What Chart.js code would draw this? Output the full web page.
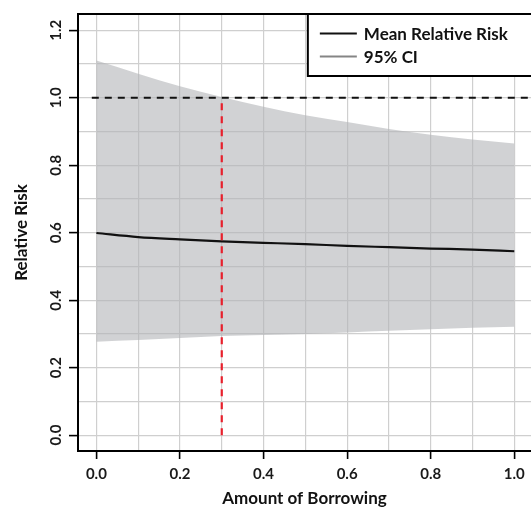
<!DOCTYPE html>
<html>
<head>
<meta charset="utf-8">
<script src="https://cdn.jsdelivr.net/npm/chart.js@4.4.0/dist/chart.umd.min.js"></script>
<style>
    html, body { margin: 0; padding: 0; overflow: hidden; background: #fff; }
    #wrap { width: 532px; height: 515px; }
</style>
</head>
<body>
<div id="wrap"><canvas id="riskChart"></canvas></div>
<script>
// values
var borrowing = [0, 0.1, 0.2, 0.3, 0.4, 0.5, 0.6, 0.7, 0.8, 0.9, 1.0];
var meanRisk = [0.599, 0.587, 0.580, 0.574, 0.570, 0.566, 0.561, 0.557, 0.553, 0.550, 0.545];
var upperCI = [1.110, 1.071, 1.034, 1.002, 0.973, 0.948, 0.928, 0.907, 0.890, 0.876, 0.864];
var lowerCI = [0.277, 0.282, 0.288, 0.294, 0.297, 0.300, 0.304, 0.309, 0.314, 0.318, 0.321];

var refLineX = [-0.011, 1.04];
var refLineY = [1, 1];
var cutoffX = [0.3, 0.3];
var cutoffY = [0, 1];

var xGrid = [0, 0.1, 0.2, 0.3, 0.4, 0.5, 0.6, 0.7, 0.8, 0.9, 1.0];
var xTicks = [0, 0.2, 0.4, 0.6, 0.8, 1.0];
var yGrid = [0, 0.1, 0.2, 0.3, 0.4, 0.5, 0.6, 0.7, 0.8, 0.9, 1.0, 1.1, 1.2];
var yTicks = [0, 0.2, 0.4, 0.6, 0.8, 1.0, 1.2];

function toPoints(xs, ys) {
    return xs.map(function (x, i) { return { x: x, y: ys[i] }; });
}
function isMajor(list, v) {
    return list.some(function (t) { return Math.abs(t - v) < 1e-6; });
}

var FONT = 'Lato, "Open Sans", sans-serif';

// box line on top of plot + framed legend
var framePlugin = {
    id: 'frame',
    afterDatasetsDraw: function (chart, args, opts) {
        var ctx = chart.ctx, a = chart.chartArea;
        ctx.save();
        ctx.strokeStyle = '#000';
        ctx.lineWidth = 2;
        ctx.beginPath();
        ctx.moveTo(a.left - 1, a.top);
        ctx.lineTo(a.right + 2, a.top);
        ctx.stroke();

        // legend
        var bx = chart.scales.x.getPixelForValue(opts.boxFrom);
        var by = a.top;
        var bh = opts.boxHeight;
        ctx.fillStyle = '#fff';
        ctx.fillRect(bx, by, a.right - bx + 2, bh);
        ctx.strokeRect(bx, by, a.right - bx + 10, bh);
        ctx.font = 'bold 17px ' + FONT;
        ctx.textBaseline = 'middle';
        opts.items.forEach(function (it, i) {
            var y = by + opts.firstRow + i * opts.rowGap;
            ctx.strokeStyle = it.color;
            ctx.lineWidth = it.width;
            ctx.beginPath();
            ctx.moveTo(bx + 12, y);
            ctx.lineTo(bx + 49, y);
            ctx.stroke();
            ctx.fillStyle = '#111';
            ctx.fillText(it.text, bx + 56, y + 1);
        });
        ctx.restore();
    }
};

var ctx = document.getElementById('riskChart').getContext('2d');
var myChart = new Chart(ctx, {
    type: 'line',
    data: {
        datasets: [{
            label: 'cutoff',
            data: toPoints(cutoffX, cutoffY),
            borderColor: '#e8202c',
            borderWidth: 2.2,
            borderDash: [7, 6],
            pointRadius: 0,
            fill: false
        }, {
            label: 'reference',
            data: toPoints(refLineX, refLineY),
            borderColor: '#111',
            borderWidth: 2,
            borderDash: [7, 6],
            pointRadius: 0,
            fill: false
        }, {
            label: 'Mean Relative Risk',
            data: toPoints(borrowing, meanRisk),
            borderColor: '#111',
            borderWidth: 2.2,
            pointRadius: 0,
            cubicInterpolationMode: 'monotone',
            fill: false
        }, {
            label: '95% CI',
            data: toPoints(borrowing, upperCI),
            borderColor: 'rgba(0,0,0,0)',
            backgroundColor: 'rgba(178,180,183,0.6)',
            pointRadius: 0,
            cubicInterpolationMode: 'monotone',
            fill: '+1'
        }, {
            label: '95% CI lower',
            data: toPoints(borrowing, lowerCI),
            borderColor: 'rgba(0,0,0,0)',
            pointRadius: 0,
            cubicInterpolationMode: 'monotone',
            fill: false
        }]
    },
    options: {
        responsive: true,
        maintainAspectRatio: false,
        animation: false,
        layout: { padding: { top: 14, right: 1, left: 0, bottom: 0 } },
        plugins: {
            legend: { display: false },
            tooltip: { enabled: false },
            frame: {
                boxFrom: 0.506,
                boxHeight: 62,
                firstRow: 19.5,
                rowGap: 23,
                items: [
                    { text: 'Mean Relative Risk', color: '#111', width: 2 },
                    { text: '95% CI', color: '#858585', width: 2 }
                ]
            }
        },
        scales: {
            x: {
                type: 'linear',
                min: -0.044,
                max: 1.04,
                afterBuildTicks: function (scale) {
                    scale.ticks = xGrid.map(function (v) { return { value: v }; });
                },
                afterFit: function (scale) { scale.height = 64; },
                grid: {
                    color: '#cfcfcf',
                    lineWidth: 1.2,
                    tickLength: 8,
                    tickWidth: 1.6,
                    tickColor: function (c) {
                        return isMajor(xTicks, c.tick.value) ? '#000' : 'rgba(0,0,0,0)';
                    }
                },
                border: { display: true, color: '#000', width: 2 },
                ticks: {
                    autoSkip: false,
                    maxRotation: 0,
                    padding: 6,
                    color: '#1a1a1a',
                    font: { family: FONT, size: 15, weight: 'bold' },
                    callback: function (v) { return isMajor(xTicks, v) ? v.toFixed(1) : ''; }
                },
                title: {
                    display: true,
                    text: 'Amount of Borrowing',
                    color: '#111',
                    font: { family: FONT, size: 17, weight: 'bold' },
                    padding: { top: 0, bottom: 6 }
                }
            },
            y: {
                min: -0.047,
                max: 1.248,
                afterBuildTicks: function (scale) {
                    scale.ticks = yGrid.map(function (v) { return { value: v }; });
                },
                afterFit: function (scale) { scale.width = 78; },
                grid: {
                    color: '#cfcfcf',
                    lineWidth: 1.2,
                    tickLength: 9,
                    tickWidth: 1.6,
                    tickColor: function (c) {
                        return isMajor(yTicks, c.tick.value) ? '#000' : 'rgba(0,0,0,0)';
                    }
                },
                border: { display: true, color: '#000', width: 2 },
                ticks: {
                    autoSkip: false,
                    minRotation: 90,
                    maxRotation: 90,
                    crossAlign: 'center',
                    padding: 2,
                    color: '#1a1a1a',
                    font: { family: FONT, size: 15, weight: 'bold' },
                    callback: function (v) { return isMajor(yTicks, v) ? v.toFixed(1) : ''; }
                },
                title: {
                    display: true,
                    text: 'Relative Risk',
                    color: '#111',
                    font: { family: FONT, size: 17, weight: 'bold' },
                    padding: { top: 11, bottom: 0 }
                }
            }
        }
    },
    plugins: [framePlugin]
});
</script>
</body>
</html>
